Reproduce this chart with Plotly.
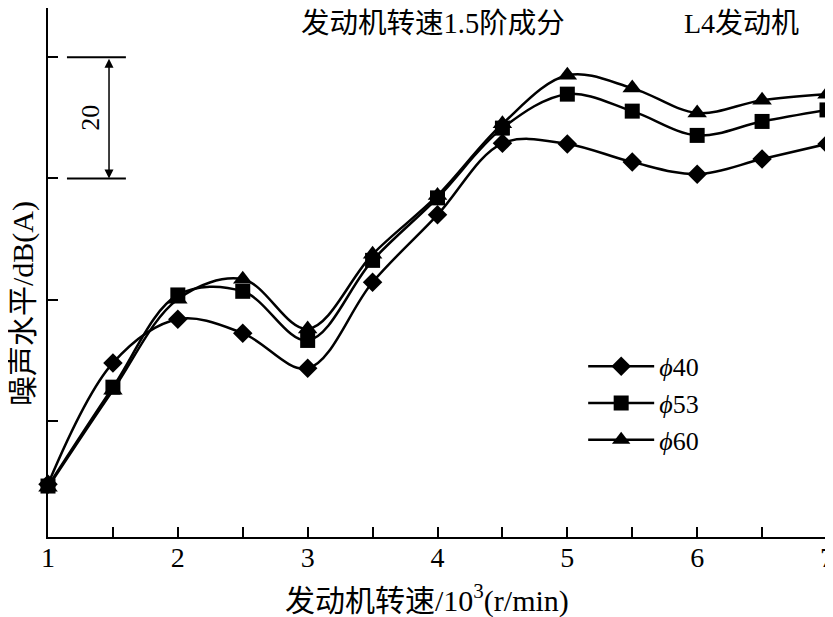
import plotly.graph_objects as go

# engine speed, 10^3 r/min
speed = [1, 1.5, 2, 2.5, 3, 3.5, 4, 4.5, 5, 5.5, 6, 6.5, 7]

# noise level dB(A) (axis has no labels, 20 dB per major tick)
phi40 = [49.6, 69.6, 76.8, 74.5, 68.7, 82.9, 94.0, 105.8, 105.7, 102.7, 100.7, 103.2, 105.7]
phi53 = [49.3, 65.6, 80.8, 81.4, 73.3, 86.5, 96.8, 108.3, 113.9, 111.1, 107.1, 109.4, 111.3]
phi60 = [49.1, 65.1, 80.1, 83.4, 75.2, 87.5, 97.2, 109.0, 117.0, 114.9, 110.8, 112.9, 113.9]

series_names = ["<i>ϕ</i>40", "<i>ϕ</i>53", "<i>ϕ</i>60"]
x_ticks = [1, 2, 3, 4, 5, 6, 7]
y_ticks = [60, 80, 100, 120]

FONT = "Liberation Serif, Times New Roman, Noto Sans CJK SC"

fig = go.Figure()

# one trace per pipe diameter
for name, vals, sym, sz in zip(series_names, [phi40, phi53, phi60],
                               ["diamond", "square", "triangle-up"], [15, 15, 17]):
    fig.add_trace(
        go.Scatter(
            x=speed,
            y=vals,
            mode="lines+markers",
            name=name,
            line=dict(color="black", width=2.5, shape="spline", smoothing=1),
            marker=dict(symbol=sym, size=sz, color="black"),
            cliponaxis=False,
        )
    )

# 20 dB scale bar
for yv in [100, 120]:
    fig.add_shape(type="line", x0=1.146, x1=1.60, y0=yv, y1=yv,
                  line=dict(color="black", width=2))
fig.add_annotation(x=1.47, y=100, ax=1.47, ay=120, xref="x", yref="y",
                   axref="x", ayref="y", text="", showarrow=True,
                   arrowhead=2, arrowside="end+start", arrowsize=1.2,
                   arrowwidth=1.5, arrowcolor="black")
fig.add_annotation(x=1.33, y=110, text="20", textangle=-90, showarrow=False,
                   font=dict(size=26, family=FONT, color="black"))

# texts inside the plot
fig.add_annotation(x=0.494, y=0.97, xref="paper", yref="paper",
                   xanchor="center", yanchor="middle",
                   text="发动机转速1.5阶成分", showarrow=False,
                   font=dict(size=28.5, family=FONT, color="black"))
fig.add_annotation(x=0.89, y=0.97, xref="paper", yref="paper",
                   xanchor="center", yanchor="middle",
                   text="L4发动机", showarrow=False,
                   font=dict(size=28, family=FONT, color="black"))

# axis titles
fig.add_annotation(x=0.487, y=-0.116, xref="paper", yref="paper",
                   xanchor="center", yanchor="middle",
                   text="发动机转速/10<sup>3</sup>(r/min)", showarrow=False,
                   font=dict(size=30, family=FONT, color="black"))
fig.add_annotation(x=-0.033, y=0.441, xref="paper", yref="paper",
                   xanchor="center", yanchor="middle", textangle=-90,
                   text="噪声水平/dB(A)", showarrow=False,
                   font=dict(size=30, family=FONT, color="black"))

fig.update_layout(
    width=825,
    height=609,
    margin=dict(l=40, r=6, t=0, b=80),
    plot_bgcolor="white",
    paper_bgcolor="white",
    font=dict(family=FONT, size=26, color="black"),
    legend=dict(x=0.687, y=0.367, xanchor="left", yanchor="top",
                bgcolor="rgba(255,255,255,0)", font=dict(size=26),
                itemwidth=66, tracegroupgap=0),
)

fig.update_xaxes(
    range=[1, 7],
    tickvals=x_ticks,
    ticks="inside",
    ticklen=10,
    tickwidth=1.5,
    tickcolor="black",
    tickfont=dict(size=28),
    ticklabelstandoff=-6,
    ticklabeloverflow="allow",
    minor=dict(dtick=0.5, tick0=1, ticks="inside", ticklen=10,
               tickwidth=1.5, tickcolor="black", showgrid=False),
    showline=True,
    linecolor="black",
    linewidth=2,
    showgrid=False,
    zeroline=False,
    automargin=False,
)
fig.update_yaxes(
    range=[40.9, 128.1],
    tickvals=y_ticks,
    ticks="inside",
    ticklen=10,
    tickwidth=1.5,
    tickcolor="black",
    showticklabels=False,
    showline=True,
    linecolor="black",
    linewidth=2,
    showgrid=False,
    zeroline=False,
    automargin=False,
)

fig.write_html("out.html")
